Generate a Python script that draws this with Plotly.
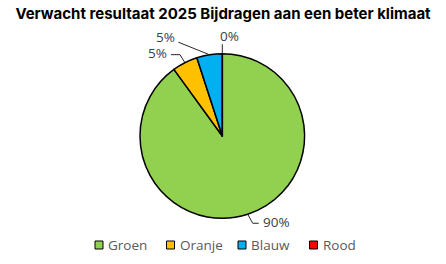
import plotly.graph_objects as go
import math

# ---- data ----
categories = ["Groen", "Oranje", "Blauw", "Rood"]
values = [90, 5, 5, 0]
colors = ["#92D050", "#FFC000", "#00B0F0", "#FF0000"]
title_text = "Verwacht resultaat 2025 Bijdragen aan een beter klimaat"

# ---- layout constants (pixels) ----
W, H = 446, 264
CX, CY, R = 222.3, 136.0, 82.3

# per-slice leader-line styling: elbow offset from slice edge, horizontal stub, text anchor, text offset
leader_style = [
    dict(elbow=(5, 9), stub=6, anchor="left", toff=(2, -1)),
    dict(elbow=(-5, -8), stub=-9, anchor="right", toff=(-2, -2)),
    dict(elbow=(-31, -12.5), stub=0, anchor="right", toff=(-1, -5)),
    dict(elbow=(0, -9.5), stub=0, anchor="center", toff=(7, -8)),
]

def px(x):
    return x / W

def py(y):
    return 1 - y / H

fig = go.Figure()
fig.add_trace(go.Pie(
    labels=categories, values=values, sort=False, direction="clockwise", rotation=0,
    marker=dict(colors=colors, line=dict(color="#000000", width=1.5)),
    textinfo="none", hoverinfo="skip", showlegend=False,
    domain=dict(x=[px(CX - R), px(CX + R)], y=[py(CY + R), py(CY - R)]),
))

shapes = []
annotations = []
total = sum(values)
cum = 0
for v, st in zip(values, leader_style):
    theta = math.radians(360 * (cum + v / 2) / total)
    cum += v
    ex, ey = CX + R * math.sin(theta), CY - R * math.cos(theta)
    bx, by = ex + st["elbow"][0], ey + st["elbow"][1]
    sx, sy = bx + st["stub"], by
    line = dict(color="#262626", width=1)
    shapes.append(dict(type="line", xref="paper", yref="paper",
                       x0=px(ex), y0=py(ey), x1=px(bx), y1=py(by), line=line))
    if st["stub"]:
        shapes.append(dict(type="line", xref="paper", yref="paper",
                           x0=px(bx), y0=py(by), x1=px(sx), y1=py(sy), line=line))
    pct = round(100 * v / total)
    annotations.append(dict(
        text=f"{pct}%", x=px(sx + st["toff"][0]), y=py(sy + st["toff"][1]),
        xref="paper", yref="paper", xanchor=st["anchor"], yanchor="middle",
        showarrow=False, font=dict(family="Open Sans, sans-serif", size=13.5, color="#404040"),
    ))

# manual legend
leg_x0, leg_step, leg_y, sq = 95, 71.5, 245, 8
for i, (name, c) in enumerate(zip(categories, colors)):
    x = leg_x0 + i * leg_step
    shapes.append(dict(type="rect", xref="paper", yref="paper",
                       x0=px(x), x1=px(x + sq), y0=py(leg_y + sq / 2), y1=py(leg_y - sq / 2),
                       fillcolor=c, line=dict(color="#000000", width=1)))
    annotations.append(dict(
        text=name, x=px(x + sq + 3), y=py(leg_y), xref="paper", yref="paper",
        xanchor="left", yanchor="middle", showarrow=False,
        font=dict(family="Open Sans, sans-serif", size=13.5, color="#595959"),
    ))

fig.update_layout(
    width=W, height=H, margin=dict(l=0, r=0, t=0, b=0),
    paper_bgcolor="white", plot_bgcolor="white",
    title=dict(text=f"<b>{title_text}</b>", x=0.5, xanchor="center", xref="paper",
               y=py(14), yref="container", yanchor="middle",
               font=dict(family="Inter, sans-serif", size=15, color="#000000")),
    shapes=shapes, annotations=annotations,
)

fig.write_html("out.html")
